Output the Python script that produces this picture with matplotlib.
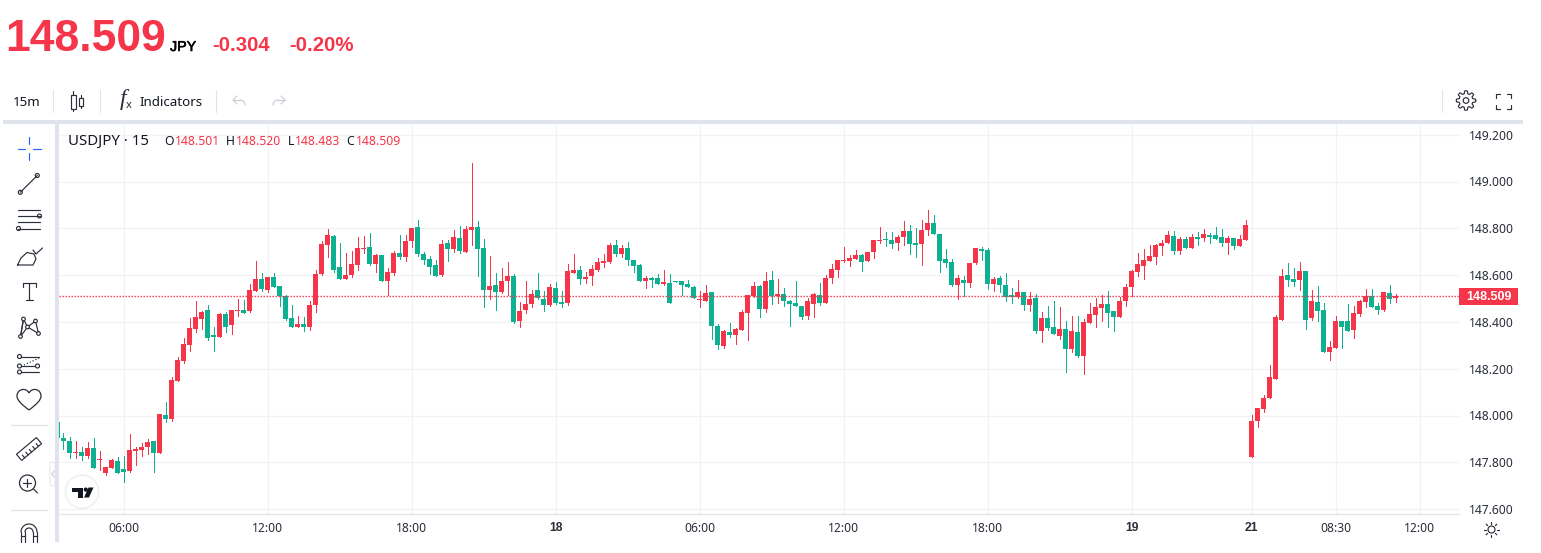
import numpy as np
import matplotlib
matplotlib.use("Agg")
import matplotlib.pyplot as plt
import matplotlib.patheffects as pe
from matplotlib.patches import Circle, Rectangle, Polygon, FancyBboxPatch, PathPatch
from matplotlib.path import Path

plt.rcParams["font.family"] = ["Noto Sans", "DejaVu Sans"]
BOLD_FONT = "Liberation Sans"

# ================= DATA =================

opens = [
    147.972, 147.904, 147.891, 147.840, 147.844, 147.827, 147.861, 147.810, 147.754, 147.776,
    147.806, 147.772, 147.763, 147.848, 147.853, 147.866, 147.891, 147.840, 148.002, 147.985,
    148.148, 148.233, 148.302, 148.370, 148.413, 148.451, 148.344, 148.336, 148.434, 148.387,
    148.447, 148.451, 148.447, 148.532, 148.584, 148.537, 148.592, 148.554, 148.511, 148.417,
    148.379, 148.391, 148.379, 148.473, 148.605, 148.729, 148.767, 148.635, 148.583, 148.600,
    148.643, 148.712, 148.720, 148.647, 148.686, 148.575, 148.609, 148.694, 148.677, 148.746,
    148.806, 148.690, 148.669, 148.643, 148.600, 148.737, 148.712, 148.759, 148.699, 148.793,
    148.806, 148.716, 148.536, 148.558, 148.528, 148.575, 148.596, 148.404, 148.451, 148.476,
    148.536, 148.498, 148.472, 148.545, 148.485, 148.481, 148.609, 148.622, 148.583, 148.596,
    148.622, 148.652, 148.656, 148.729, 148.690, 148.716, 148.665, 148.643, 148.575, 148.588,
    148.588, 148.562, 148.566, 148.575, 148.575, 148.562, 148.549, 148.493, 148.489, 148.528,
    148.382, 148.297, 148.357, 148.344, 148.365, 148.438, 148.511, 148.553, 148.455, 148.579,
    148.511, 148.519, 148.489, 148.481, 148.468, 148.425, 148.476, 148.515, 148.481, 148.588,
    148.622, 148.660, 148.660, 148.669, 148.686, 148.660, 148.699, 148.746, 148.754, 148.750,
    148.737, 148.763, 148.788, 148.737, 148.733, 148.793, 148.823, 148.776, 148.669, 148.656,
    148.558, 148.579, 148.566, 148.652, 148.712, 148.707, 148.562, 148.588, 148.558, 148.515,
    148.506, 148.528, 148.472, 148.502, 148.361, 148.417, 148.378, 148.340, 148.370, 148.284,
    148.356, 148.254, 148.395, 148.429, 148.459, 148.476, 148.446, 148.421, 148.489, 148.549,
    148.613, 148.639, 148.660, 148.677, 148.724, 148.737, 148.767, 148.703, 148.754, 148.716,
    148.763, 148.758, 148.771, 148.771, 148.763, 148.737, 148.758, 148.724, 148.750, 147.823,
    147.977, 148.028, 148.075, 148.157, 148.409, 148.601, 148.584, 148.580, 148.618, 148.417,
    148.486, 148.451, 148.272, 148.289, 148.404, 148.404, 148.366, 148.434, 148.486, 148.511,
    148.469, 148.451, 148.524, 148.501,
]
highs = [
    147.972, 147.925, 147.908, 147.891, 147.866, 147.887, 147.904, 147.848, 147.780, 147.814,
    147.823, 147.827, 147.921, 147.866, 147.883, 147.900, 147.891, 148.007, 148.058, 148.165,
    148.250, 148.332, 148.417, 148.490, 148.447, 148.473, 148.379, 148.438, 148.443, 148.451,
    148.498, 148.494, 148.562, 148.661, 148.609, 148.592, 148.609, 148.554, 148.515, 148.473,
    148.426, 148.421, 148.490, 148.622, 148.746, 148.797, 148.771, 148.737, 148.694, 148.703,
    148.763, 148.767, 148.780, 148.690, 148.686, 148.630, 148.703, 148.771, 148.771, 148.801,
    148.836, 148.699, 148.682, 148.665, 148.750, 148.750, 148.793, 148.810, 148.810, 149.079,
    148.831, 148.754, 148.682, 148.609, 148.630, 148.656, 148.605, 148.485, 148.575, 148.536,
    148.609, 148.532, 148.562, 148.570, 148.532, 148.647, 148.690, 148.639, 148.613, 148.643,
    148.673, 148.690, 148.737, 148.750, 148.729, 148.741, 148.665, 148.647, 148.596, 148.592,
    148.605, 148.622, 148.605, 148.575, 148.575, 148.579, 148.553, 148.532, 148.558, 148.528,
    148.391, 148.365, 148.395, 148.374, 148.451, 148.515, 148.570, 148.558, 148.613, 148.617,
    148.583, 148.545, 148.493, 148.575, 148.468, 148.502, 148.523, 148.566, 148.600, 148.647,
    148.665, 148.720, 148.686, 148.707, 148.690, 148.699, 148.750, 148.806, 148.784, 148.784,
    148.771, 148.831, 148.814, 148.801, 148.835, 148.878, 148.857, 148.776, 148.712, 148.669,
    148.600, 148.596, 148.652, 148.716, 148.720, 148.716, 148.592, 148.596, 148.609, 148.545,
    148.579, 148.528, 148.528, 148.519, 148.442, 148.468, 148.489, 148.464, 148.404, 148.425,
    148.425, 148.412, 148.480, 148.502, 148.515, 148.532, 148.446, 148.506, 148.562, 148.622,
    148.694, 148.711, 148.728, 148.733, 148.750, 148.788, 148.788, 148.763, 148.763, 148.775,
    148.784, 148.797, 148.780, 148.805, 148.797, 148.767, 148.758, 148.771, 148.835, 148.003,
    148.033, 148.088, 148.216, 148.430, 148.627, 148.652, 148.631, 148.657, 148.618, 148.537,
    148.554, 148.481, 148.319, 148.426, 148.404, 148.477, 148.469, 148.494, 148.541, 148.541,
    148.481, 148.528, 148.558, 148.520,
]
lows = [
    147.905, 147.857, 147.819, 147.819, 147.810, 147.819, 147.776, 147.767, 147.746, 147.776,
    147.754, 147.716, 147.759, 147.789, 147.827, 147.836, 147.759, 147.840, 147.972, 147.977,
    148.148, 148.225, 148.276, 148.357, 148.370, 148.323, 148.276, 148.336, 148.357, 148.349,
    148.426, 148.438, 148.443, 148.532, 148.532, 148.528, 148.550, 148.468, 148.408, 148.379,
    148.379, 148.361, 148.366, 148.443, 148.600, 148.677, 148.613, 148.583, 148.583, 148.592,
    148.622, 148.694, 148.643, 148.613, 148.575, 148.515, 148.600, 148.669, 148.660, 148.720,
    148.682, 148.647, 148.605, 148.596, 148.596, 148.660, 148.699, 148.694, 148.699, 148.729,
    148.596, 148.464, 148.498, 148.451, 148.523, 148.515, 148.395, 148.378, 148.438, 148.464,
    148.498, 148.446, 148.468, 148.476, 148.464, 148.472, 148.609, 148.562, 148.566, 148.558,
    148.617, 148.635, 148.652, 148.682, 148.677, 148.643, 148.613, 148.575, 148.545, 148.549,
    148.562, 148.558, 148.481, 148.570, 148.515, 148.549, 148.502, 148.464, 148.489, 148.327,
    148.284, 148.288, 148.335, 148.305, 148.365, 148.323, 148.506, 148.421, 148.442, 148.476,
    148.481, 148.468, 148.382, 148.468, 148.412, 148.412, 148.421, 148.472, 148.481, 148.566,
    148.592, 148.656, 148.639, 148.669, 148.617, 148.660, 148.673, 148.737, 148.724, 148.716,
    148.707, 148.729, 148.690, 148.677, 148.643, 148.771, 148.776, 148.613, 148.635, 148.553,
    148.498, 148.511, 148.549, 148.647, 148.665, 148.541, 148.532, 148.528, 148.489, 148.481,
    148.502, 148.451, 148.446, 148.352, 148.314, 148.365, 148.348, 148.327, 148.186, 148.271,
    148.250, 148.177, 148.395, 148.378, 148.403, 148.378, 148.361, 148.421, 148.468, 148.510,
    148.596, 148.583, 148.660, 148.647, 148.686, 148.737, 148.690, 148.690, 148.716, 148.716,
    148.728, 148.745, 148.737, 148.754, 148.724, 148.690, 148.711, 148.724, 148.750, 147.823,
    147.951, 148.015, 148.075, 148.157, 148.409, 148.554, 148.554, 148.537, 148.370, 148.409,
    148.404, 148.272, 148.238, 148.289, 148.289, 148.362, 148.332, 148.426, 148.464, 148.464,
    148.434, 148.447, 148.481, 148.483,
]
closes = [
    147.905, 147.891, 147.840, 147.844, 147.827, 147.861, 147.776, 147.814, 147.780, 147.810,
    147.754, 147.759, 147.853, 147.857, 147.866, 147.887, 147.840, 148.007, 147.985, 148.152,
    148.238, 148.306, 148.374, 148.421, 148.443, 148.332, 148.336, 148.434, 148.379, 148.451,
    148.451, 148.438, 148.537, 148.584, 148.541, 148.592, 148.550, 148.511, 148.413, 148.379,
    148.391, 148.379, 148.473, 148.605, 148.733, 148.771, 148.622, 148.583, 148.600, 148.647,
    148.716, 148.716, 148.647, 148.686, 148.575, 148.613, 148.694, 148.677, 148.746, 148.801,
    148.690, 148.665, 148.635, 148.596, 148.733, 148.712, 148.763, 148.703, 148.797, 148.806,
    148.712, 148.536, 148.553, 148.528, 148.575, 148.596, 148.399, 148.446, 148.476, 148.519,
    148.502, 148.472, 148.549, 148.481, 148.476, 148.617, 148.622, 148.583, 148.592, 148.626,
    148.656, 148.660, 148.729, 148.690, 148.716, 148.665, 148.639, 148.575, 148.588, 148.579,
    148.562, 148.570, 148.481, 148.570, 148.558, 148.549, 148.502, 148.498, 148.523, 148.382,
    148.301, 148.361, 148.344, 148.370, 148.442, 148.515, 148.553, 148.455, 148.575, 148.511,
    148.519, 148.489, 148.476, 148.468, 148.421, 148.489, 148.519, 148.481, 148.588, 148.626,
    148.665, 148.665, 148.673, 148.686, 148.656, 148.699, 148.750, 148.750, 148.750, 148.733,
    148.763, 148.788, 148.733, 148.729, 148.793, 148.823, 148.776, 148.660, 148.652, 148.558,
    148.588, 148.566, 148.652, 148.716, 148.703, 148.562, 148.583, 148.558, 148.506, 148.506,
    148.528, 148.472, 148.498, 148.361, 148.417, 148.374, 148.348, 148.370, 148.284, 148.361,
    148.254, 148.399, 148.433, 148.463, 148.476, 148.438, 148.421, 148.489, 148.549, 148.617,
    148.647, 148.664, 148.681, 148.728, 148.737, 148.771, 148.703, 148.754, 148.716, 148.763,
    148.754, 148.775, 148.763, 148.754, 148.737, 148.758, 148.724, 148.754, 148.814, 147.977,
    148.033, 148.075, 148.165, 148.422, 148.597, 148.580, 148.571, 148.618, 148.409, 148.490,
    148.447, 148.272, 148.293, 148.404, 148.379, 148.362, 148.439, 148.490, 148.511, 148.464,
    148.451, 148.528, 148.498, 148.509,
]

time_ticks = [11, 35, 59, 83, 107, 131, 155, 179, 199, 213, 227]
time_labels = ["06:00", "12:00", "18:00", "18", "06:00", "12:00", "18:00", "19", "21", "08:30", "12:00"]
bold_labels = ["18", "19", "21"]
price_ticks = [147.6, 147.8, 148.0, 148.2, 148.4, 148.6, 148.8, 149.0, 149.2]

last_price = 148.509

RED = "#F5364A"
GREEN = "#0EB092"
DARK = "#131722"
BAND = "#E0E3EB"
GRID = "#F1F2F5"
GREY = "#C9CCD3"
ICON = "#2A2E39"
BLUE = "#2962FF"

W, H = 1541, 553

fig = plt.figure(figsize=(W / 100, H / 100), dpi=100, facecolor="white")

# ================= CHART PANE =================

ax = fig.add_axes([59 / W, (H - 514) / H, 1400 / W, 390 / H])
ax.set_xlim((59 - 57.5) / 6, (1459 - 57.5) / 6)
ax.set_ylim(149.2 - (514 - 134.7) / 234, 149.2 - (124 - 134.7) / 234)

for side in ["top", "left", "right"]:
    ax.spines[side].set_visible(False)
ax.spines["bottom"].set_color(BAND)
ax.spines["bottom"].set_linewidth(0.9)

ax.grid(True, color=GRID, linewidth=0.9, zorder=0)
ax.set_axisbelow(True)

ax.yaxis.tick_right()
ax.set_yticks(price_ticks)
ax.set_yticklabels([f"{p:.3f}" for p in price_ticks], fontsize=8.7, color="#2A2E39")
ax.tick_params(axis="y", length=0, pad=7)
ax.set_xticks(time_ticks)
ax.set_xticklabels(time_labels, fontsize=8.7, color="#2A2E39")
ax.tick_params(axis="x", length=0, pad=6)
for lab in ax.get_xticklabels():
    if lab.get_text() in bold_labels:
        lab.set_fontfamily(BOLD_FONT)
        lab.set_fontweight("bold")

idx = np.arange(len(opens))
o = np.array(opens)
h = np.array(highs)
l = np.array(lows)
c = np.array(closes)
colors = [RED if cc >= oo else GREEN for oo, cc in zip(o, c)]

ax.vlines(idx, l, h, colors=colors, linewidth=0.72, antialiased=False, zorder=3)
ax.bar(idx, np.abs(c - o), bottom=np.minimum(o, c), width=5 / 6, color=colors, linewidth=0, zorder=4)

# 1.39 px dots on a 3 px period reads like the browser's 1px dotted line
ax.axhline(last_price, color=RED, linewidth=1.0, linestyle=(0, (1, 1.16)), zorder=5)

# ================= OVERLAY (page chrome, pixel coords) =================

ui = fig.add_axes([0, 0, 1, 1], facecolor="none")
ui.set_xlim(0, W)
ui.set_ylim(H, 0)
ui.axis("off")


def line(xs, ys, color=ICON, lw=0.85, **kw):
    ui.plot(xs, ys, color=color, linewidth=lw, solid_capstyle="round", zorder=5, **kw)


def ring(x, y, r, color=ICON, lw=0.85, fill="white"):
    ui.add_patch(Circle((x, y), r, facecolor=fill, edgecolor=color, linewidth=lw, zorder=4))


# bands around the pane
ui.add_patch(Rectangle((3, 120), 1520, 4, color=BAND, linewidth=0))
ui.add_patch(Rectangle((55, 124), 4, 418, color=BAND, linewidth=0))

# price label on the axis
ui.add_patch(Rectangle((1459, 288), 59, 17, color=RED, linewidth=0))
ui.text(1489, 297, f"{last_price:.3f}", color="white", fontsize=9, family=BOLD_FONT, fontweight="bold", ha="center", va="center")

# quote header
ui.text(5, 51, "148.509", color=RED, fontsize=32, family=BOLD_FONT, fontweight="bold", ha="left", va="baseline")
ui.text(170, 51, "JPY", color="black", fontsize=10.3, family=BOLD_FONT, ha="left", va="baseline",
        path_effects=[pe.withStroke(linewidth=0.4, foreground="black")])
ui.text(212, 51, "-0.304", color=RED, fontsize=14.7, family=BOLD_FONT, fontweight="bold", ha="left", va="baseline")
ui.text(289, 51, "-0.20%", color=RED, fontsize=14.7, family=BOLD_FONT, fontweight="bold", ha="left", va="baseline")

# top toolbar
ui.text(13, 102, "15m", color=DARK, fontsize=9.6, ha="left", va="center")
ui.text(140, 102, "Indicators", color=DARK, fontsize=9.6, ha="left", va="center")
for sx in [53.5, 100.5, 216.5, 1442.5]:
    line([sx, sx], [90, 112], color=BAND, lw=0.8)

ui.add_patch(Rectangle((71.5, 94.5), 4.5, 14, facecolor="white", edgecolor=ICON, linewidth=0.85))
line([73.5, 73.5], [90.5, 94.5])
line([73.5, 73.5], [108.5, 111])
ui.add_patch(Rectangle((79.5, 97.5), 4, 8, facecolor="white", edgecolor=ICON, linewidth=0.85))
line([81.5, 81.5], [95, 97.5])
line([81.5, 81.5], [105.5, 107.5])

ui.text(123, 100, "f", color=ICON, fontsize=17, fontstyle="italic", family="Liberation Serif", ha="center", va="center")
ui.text(128.5, 106, "x", color=ICON, fontsize=8, ha="center", va="center", fontweight="bold")

for x0, sgn in [(233, 1), (285, -1)]:
    line([x0 + sgn * 4, x0, x0 + sgn * 4], [96, 100, 104], color=GREY)
    t = np.linspace(0, np.pi / 2, 12)
    line(x0 + sgn * (7 + 5 * np.sin(t)), 105 - 5 * np.cos(t), color=GREY)
    line([x0, x0 + sgn * 7], [100, 100], color=GREY)

# gear
t = np.linspace(0, 2 * np.pi, 160)
rg = 8.3 + 1.4 * np.tanh(3 * np.cos(8 * t))
ui.plot(1466 + rg * np.cos(t), 100.5 + rg * np.sin(t), color=ICON, linewidth=0.85)
ring(1466, 100.5, 2.8)

# fullscreen corners
for cx, cy, dx, dy in [(1496.5, 93.5, 1, 1), (1511.5, 93.5, -1, 1), (1496.5, 108.5, 1, -1), (1511.5, 108.5, -1, -1)]:
    line([cx + dx * 4, cx, cx], [cy, cy, cy + dy * 4])

# left drawing toolbar
line([18, 25], [148.5, 148.5], color=BLUE)
line([33, 41], [148.5, 148.5], color=BLUE)
line([29.5, 29.5], [137, 144], color=BLUE)
line([29.5, 29.5], [153, 160], color=BLUE)

line([20.3, 37.3], [192.3, 175.5])
ring(20.3, 192.3, 2)
ring(37.3, 175.5, 2)

for ly in [210, 216, 222, 228.5]:
    line([18, 40], [ly, ly])
ring(39.5, 216, 2)
ring(18.5, 228.5, 2)

line([17.5, 33, 36, 34, 27, 21, 17.5], [265, 265, 259, 254, 252.5, 258, 265])
line([33, 36, 42.5], [250, 254, 248])

line([23.5, 23.5, 36, 36], [287, 283, 283, 287])
line([29.5, 29.5], [283, 300])
line([26, 33], [300, 300])

px = [23.5, 35.5, 20.5, 38.5, 27.5]
py = [319, 321, 336.5, 333.5, 327]
for a, b in [(2, 0), (0, 4), (4, 3), (3, 1), (1, 4), (4, 2), (0, 2)]:
    ui.plot([px[a], px[b]], [py[a], py[b]], color=ICON, linewidth=0.85, zorder=3)
for x, y in zip(px, py):
    ring(x, y, 1.8)

line([19.5, 39], [356.5, 356.5])
line([19.5, 37.5], [366, 366])
line([19.5, 39], [372, 372])
line([24, 39], [365, 358], ls=":")
for x, y in [(19.5, 356.5), (19.5, 366), (19.5, 372), (37.5, 366)]:
    ui.add_patch(Circle((x, y), 2, facecolor="white", edgecolor=ICON, linewidth=0.85, zorder=6))

heart = Path(
    [(29, 410), (21, 404), (17, 400), (17, 396), (17, 389), (26, 387), (29, 393),
     (32, 387), (41, 389), (41, 396), (41, 400), (37, 404), (29, 410)],
    [Path.MOVETO] + [Path.CURVE4] * 12,
)
ui.add_patch(PathPatch(heart, facecolor="white", edgecolor=ICON, linewidth=0.9))

line([11, 47], [424.5, 424.5], color=BAND, lw=0.9)

rul = np.array([[-13, -4], [13, -4], [13, 4], [-13, 4]], float)
ang = np.radians(-40)
rot = np.array([[np.cos(ang), -np.sin(ang)], [np.sin(ang), np.cos(ang)]])
ui.add_patch(Polygon(rul @ rot.T + [29, 449], closed=True, facecolor="white", edgecolor=ICON, linewidth=0.85))
for k in np.arange(-9, 10, 4.5):
    seg = np.array([[k, 4], [k, 0.5]]) @ rot.T + [29, 449]
    line(seg[:, 0], seg[:, 1])

ring(27.5, 483, 8, lw=0.9)
line([33.5, 37.5], [489, 493])
line([23.5, 31.5], [483, 483])
line([27.5, 27.5], [479, 487])

ui.add_patch(FancyBboxPatch((50, 462), 5, 24, boxstyle="round,pad=0,rounding_size=2", facecolor="white", edgecolor="#E6E8EE", linewidth=0.8))
line([54, 52, 54], [471, 474, 477], color=GREY)

line([11, 47], [509.5, 509.5], color=BAND, lw=0.9)

t = np.linspace(np.pi, 2 * np.pi, 30)
line(29 + 8 * np.cos(t), 532 + 8 * np.sin(t))
line(29 + 4 * np.cos(t), 532 + 4 * np.sin(t))
for mx in [21, 25, 33, 37]:
    line([mx, mx], [532, 542])
line([21, 25], [536, 536])
line([33, 37], [536, 536])

# logo badge
ui.add_patch(Circle((82, 491.7), 16.6, facecolor="white", edgecolor="#EEF0F3", linewidth=1.2, zorder=6))
ui.add_patch(Polygon([(72, 487.5), (83, 487.5), (83, 497.5), (78, 497.5), (78, 491.5), (72, 491.5)], color=DARK, linewidth=0, zorder=7))
ui.add_patch(Circle((85.8, 489.6), 2.1, color=DARK, linewidth=0, zorder=7))
ui.add_patch(Polygon([(88.5, 487.5), (93.5, 487.5), (89, 497.5), (84, 497.5)], color=DARK, linewidth=0, zorder=7))

# legend row
ui.text(68, 141, "USDJPY · 15", color=DARK, fontsize=10.8, ha="left", va="center")
for lx, letter, vx, val in [(164.5, "O", 174.5, "148.501"), (226, "H", 236, "148.520"),
                            (287.5, "L", 295, "148.483"), (346, "C", 356, "148.509")]:
    ui.text(lx, 141.5, letter, color=DARK, fontsize=8.8, ha="left", va="center")
    ui.text(vx, 141.5, val, color=RED, fontsize=8.8, ha="left", va="center")

# sun icon
ring(1491.5, 529.5, 3.5)
for a in np.arange(0, 2 * np.pi, np.pi / 4):
    line([1491.5 + 5.5 * np.cos(a), 1491.5 + 7.5 * np.cos(a)], [529.5 + 5.5 * np.sin(a), 529.5 + 7.5 * np.sin(a)])

fig.savefig("out.png", dpi=100, facecolor="white")
